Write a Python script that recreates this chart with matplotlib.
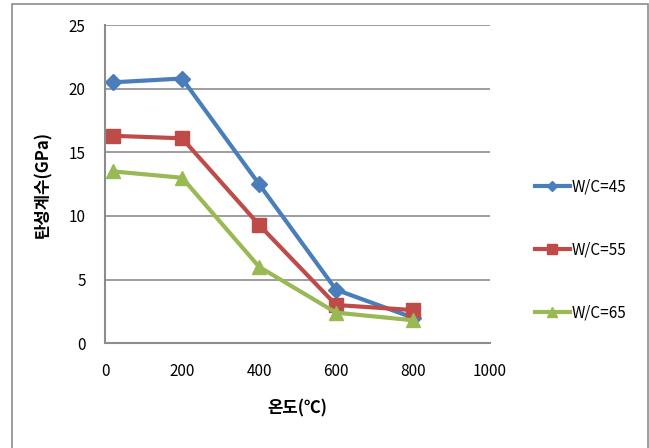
import matplotlib.pyplot as plt
from matplotlib.patches import Rectangle

plt.rcParams['font.family'] = ['Noto Sans CJK KR', 'DejaVu Sans']

temps = [20, 200, 400, 600, 800]
wc45 = [20.5, 20.8, 12.5, 4.2, 2.0]
wc55 = [16.3, 16.1, 9.3, 3.0, 2.6]
wc65 = [13.5, 13.0, 6.0, 2.4, 1.8]

fig = plt.figure(figsize=(6.49, 4.48), dpi=100)
ax = fig.add_axes([0.162, 0.234, 0.593, 0.71])

fig.patches.append(Rectangle((12 / 649, -0.1), 636 / 649, 1.09, transform=fig.transFigure,
                             fill=False, edgecolor='#8c8c8c', linewidth=1.2))

ax.plot(temps, wc45, color='#4a7ebb', lw=3, marker='D', ms=8, label='W/C=45')
ax.plot(temps, wc55, color='#be4b48', lw=3, marker='s', ms=10, label='W/C=55')
ax.plot(temps, wc65, color='#98b954', lw=3, marker='^', ms=10, label='W/C=65')

ax.set_xlim(0, 1000)
ax.set_ylim(0, 25)
ax.set_xticks(range(0, 1001, 200))
ax.set_yticks(range(0, 26, 5))
ax.grid(axis='y', color='#8c8c8c', lw=1.2)
ax.set_axisbelow(True)
for s in ['top', 'right']:
    ax.spines[s].set_visible(False)
for s in ['left', 'bottom']:
    ax.spines[s].set_color('#8c8c8c')
    ax.spines[s].set_linewidth(1.5)
ax.tick_params(length=0, labelsize=11, pad=14)

ax.set_xlabel('온도(℃)', fontsize=12, fontweight='bold', labelpad=14)
ax.set_ylabel('탄성계수(GPa)', fontsize=12, fontweight='bold', labelpad=12)

fig.legend(loc='center left', bbox_to_anchor=(0.803, 0.442), frameon=False,
           fontsize=11, handlelength=2.3, handletextpad=0.1, labelspacing=3.0,
           markerscale=0.7)

fig.savefig('out.png', dpi=100)
